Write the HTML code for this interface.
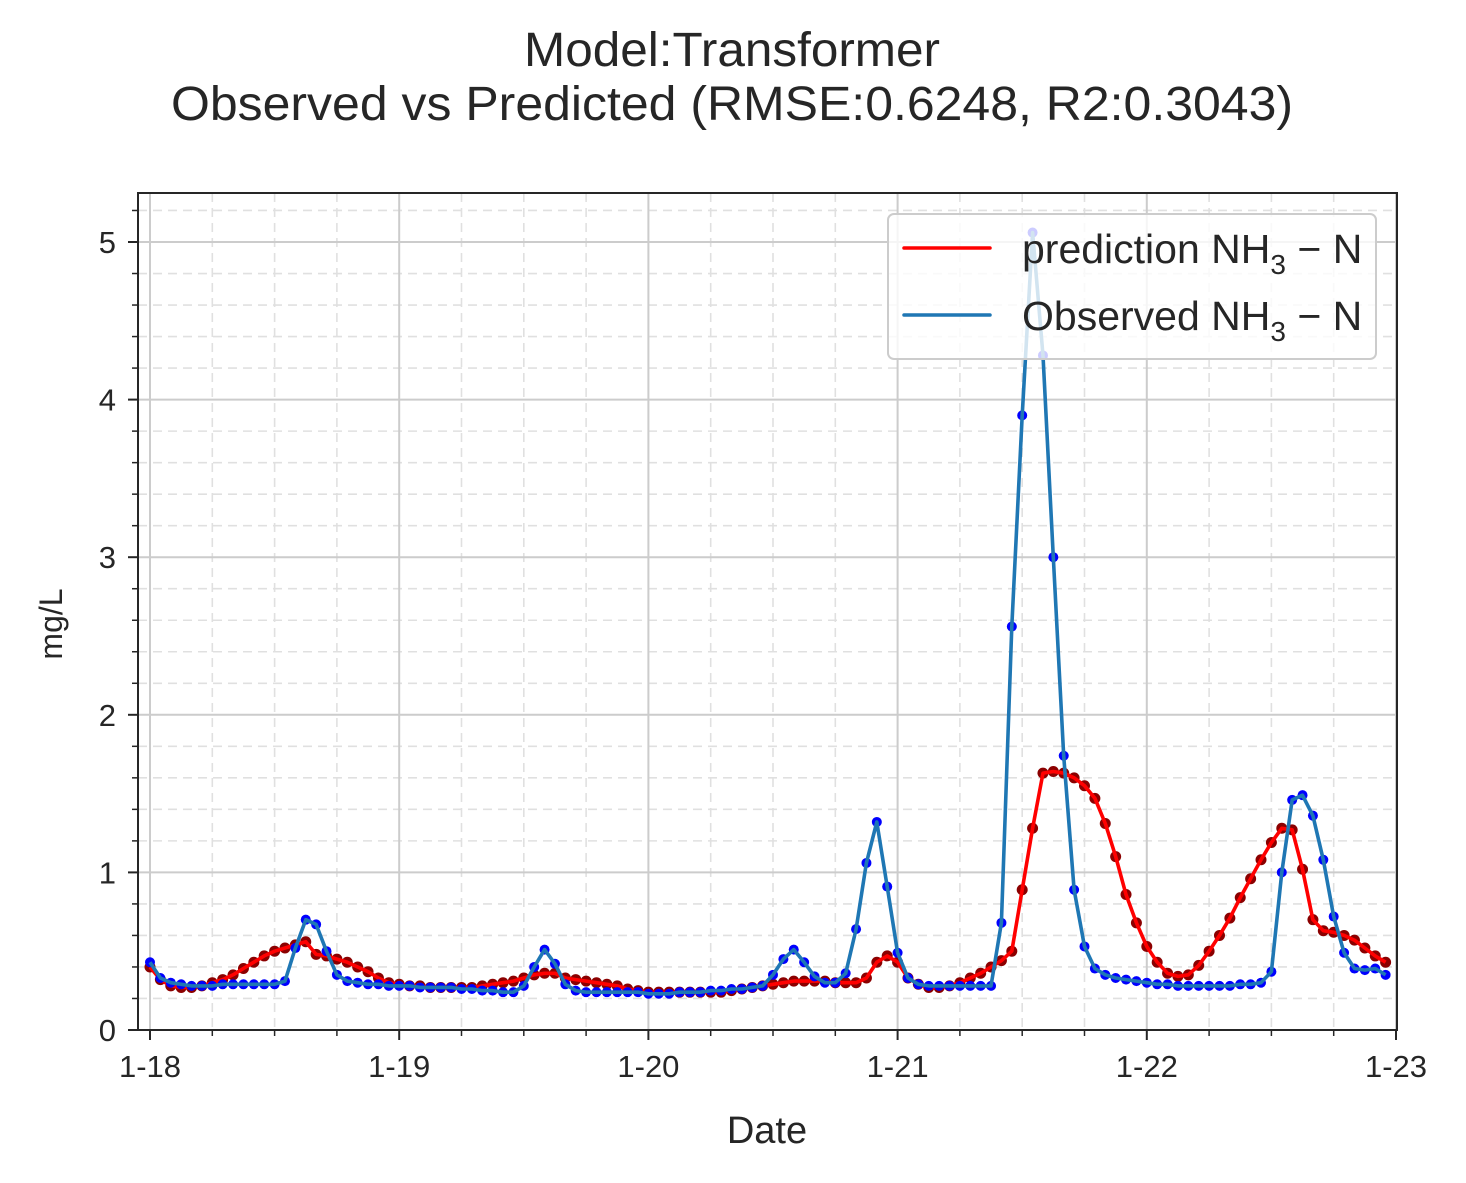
<!DOCTYPE html>
<html><head><meta charset="utf-8"><style>
html,body{margin:0;padding:0;background:#fff;}
svg{display:block;font-family:"Liberation Sans",Arial,sans-serif;}
</style></head><body>
<svg id="chart" width="1466" height="1183" viewBox="0 0 1466 1183" xmlns="http://www.w3.org/2000/svg">
<text x="732" y="66" font-size="48" text-anchor="middle" fill="#262626" textLength="416" lengthAdjust="spacingAndGlyphs">Model:Transformer</text>
<text x="732" y="120" font-size="48" text-anchor="middle" fill="#262626" textLength="1122" lengthAdjust="spacingAndGlyphs">Observed vs Predicted (RMSE:0.6248, R2:0.3043)</text>
<g id="grid"></g>
<g id="series"></g>
<rect x="138" y="193" width="1259" height="837" fill="none" stroke="#262626" stroke-width="2"/>
<g id="axes"></g>
<text x="767" y="1143" font-size="38" text-anchor="middle" fill="#262626">Date</text>
<text transform="translate(62,624) rotate(-90)" font-size="32" text-anchor="middle" fill="#262626">mg/L</text>
<g>
<rect x="888" y="214" width="488" height="145" rx="6" fill="#fff" fill-opacity="0.8" stroke="#cccccc" stroke-width="2"/>
<line x1="904" y1="248" x2="990" y2="248" stroke="#ff0000" stroke-width="3.5" stroke-linecap="round"/>
<text x="1022" y="263" font-size="41" fill="#262626">prediction NH<tspan font-size="28" dy="11">3</tspan><tspan dy="-11"> − N</tspan></text>
<line x1="904" y1="315" x2="990" y2="315" stroke="#1f77b4" stroke-width="3.5" stroke-linecap="round"/>
<text x="1022" y="330" font-size="41" fill="#262626">Observed NH<tspan font-size="28" dy="11">3</tspan><tspan dy="-11"> − N</tspan></text>
</g>
</svg>
<script>
const dayLabels = ["1-18","1-19","1-20","1-21","1-22","1-23"];
const yTicks = [0,1,2,3,4,5];
const predicted = [0.40,0.32,0.28,0.27,0.27,0.28,0.30,0.32,0.35,0.39,0.43,0.47,0.50,0.52,0.54,0.56,0.48,0.47,0.45,0.43,0.40,0.37,0.33,0.30,
0.29,0.28,0.28,0.27,0.27,0.27,0.27,0.27,0.28,0.29,0.30,0.31,0.33,0.35,0.36,0.36,0.33,0.32,0.31,0.30,0.29,0.28,0.26,0.25,
0.24,0.24,0.24,0.24,0.24,0.24,0.24,0.24,0.25,0.26,0.27,0.28,0.29,0.30,0.31,0.31,0.31,0.31,0.30,0.30,0.30,0.33,0.43,0.47,
0.43,0.33,0.29,0.27,0.27,0.28,0.30,0.33,0.36,0.40,0.44,0.50,0.89,1.28,1.63,1.64,1.63,1.60,1.55,1.47,1.31,1.10,0.86,0.68,
0.53,0.43,0.36,0.34,0.35,0.41,0.50,0.60,0.71,0.84,0.96,1.08,1.19,1.28,1.27,1.02,0.70,0.63,0.62,0.60,0.57,0.52,0.47,0.43];
const observed = [0.43,0.33,0.30,0.29,0.28,0.28,0.28,0.29,0.29,0.29,0.29,0.29,0.29,0.31,0.52,0.70,0.67,0.50,0.35,0.31,0.30,0.29,0.29,0.28,
0.28,0.28,0.27,0.27,0.27,0.27,0.26,0.26,0.25,0.25,0.24,0.24,0.28,0.40,0.51,0.42,0.29,0.25,0.24,0.24,0.24,0.24,0.24,0.24,
0.23,0.23,0.23,0.24,0.24,0.24,0.25,0.25,0.26,0.26,0.27,0.28,0.35,0.45,0.51,0.43,0.34,0.30,0.30,0.36,0.64,1.06,1.32,0.91,
0.49,0.33,0.29,0.28,0.28,0.28,0.28,0.28,0.28,0.28,0.68,2.56,3.90,5.06,4.28,3.00,1.74,0.89,0.53,0.39,0.35,0.33,0.32,0.31,
0.30,0.29,0.29,0.28,0.28,0.28,0.28,0.28,0.28,0.29,0.29,0.30,0.37,1.00,1.46,1.49,1.36,1.08,0.72,0.49,0.39,0.38,0.39,0.35];
const NS="http://www.w3.org/2000/svg";
const L=138,R=1397,T=193,B=1030;
const xDay=d=>150+d*249.2;
const xIdx=i=>xDay(i/24);
const yVal=v=>1030-v*157.6;
function mk(tag,attrs,parent){const e=document.createElementNS(NS,tag);for(const k in attrs)e.setAttribute(k,attrs[k]);parent.appendChild(e);return e;}
const grid=document.getElementById('grid'),axes=document.getElementById('axes'),series=document.getElementById('series');
for(let q=0;q<=20;q++){if(q%4===0)continue;const x=xDay(q/4);
 const g=mk('line',{x1:x,y1:T,x2:x,y2:B,stroke:'#e0e0e0','stroke-width':1.6,'stroke-dasharray':'9,6'},grid);
 
 
 const t=mk('line',{x1:x,y1:B,x2:x,y2:B+6,stroke:'#262626','stroke-width':1.5},axes);
 
 }
for(let m=1;m<27;m++){if(m%5===0)continue;const y=yVal(m*0.2);if(y<T)continue;
 const g=mk('line',{x1:L,y1:y,x2:R,y2:y,stroke:'#e0e0e0','stroke-width':1.6,'stroke-dasharray':'9,6'},grid);
 
 
 const t=mk('line',{x1:L-6,y1:y,x2:L,y2:y,stroke:'#262626','stroke-width':1.5},axes);
 
 }
dayLabels.forEach((lab,d)=>{const x=xDay(d);
 const g=mk('line',{x1:x,y1:T,x2:x,y2:B,stroke:'#cccccc','stroke-width':2},grid);
 
 
 const t=mk('line',{x1:x,y1:B,x2:x,y2:B+10,stroke:'#262626','stroke-width':2},axes);
 
 
 const tx=mk('text',{x:x,y:B+47,'font-size':31,'text-anchor':'middle',fill:'#262626'},axes);tx.textContent=lab;
 
 });
yTicks.forEach(v=>{const y=yVal(v);
 const g=mk('line',{x1:L,y1:y,x2:R,y2:y,stroke:'#cccccc','stroke-width':2},grid);
 
 
 const t=mk('line',{x1:L-10,y1:y,x2:L,y2:y,stroke:'#262626','stroke-width':2},axes);
 
 
 const tx=mk('text',{x:L-22,y:y+11,'font-size':31,'text-anchor':'end',fill:'#262626'},axes);tx.textContent=String(v);
 
 });
function drawSeries(vals,lineColor,dotColor,r,name){
 const g=mk('g',{},series);
 
 
 vals.forEach((v,i)=>{const c=mk('circle',{cx:xIdx(i),cy:yVal(v),r:r,fill:dotColor},g);
  
  });
 const p=mk('polyline',{points:vals.map((v,i)=>xIdx(i).toFixed(1)+','+yVal(v).toFixed(1)).join(' '),fill:'none',stroke:lineColor,'stroke-width':3.6,'stroke-linejoin':'round'},g);
 
 }
drawSeries(predicted,'#ff0000','#8b0000',5.5,'prediction');
drawSeries(observed,'#1f77b4','#0000ff',5,'observed');
</script>
</body></html>
